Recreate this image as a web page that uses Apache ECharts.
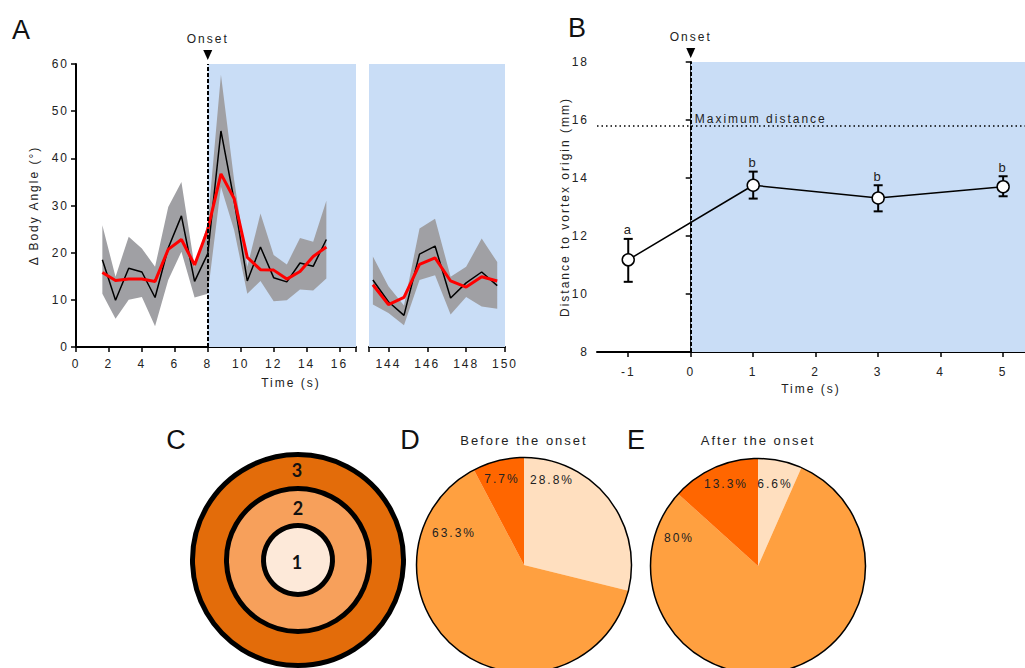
<!DOCTYPE html>
<html><head><meta charset="utf-8">
<script src="https://cdn.jsdelivr.net/npm/echarts@6/dist/echarts.min.js"></script>
<style>
html,body{margin:0;padding:0;background:#fff}
#c{width:1025px;height:668px}
#c svg text{letter-spacing:2px}
</style></head><body><div id="c"></div>
<script>
// ---------- Panel A data ----------
const aTimeEarly   = [1.6,2.4,3.2,4.0,4.8,5.6,6.4,7.2,8.0,8.8,9.6,10.4,11.2,12.0,12.8,13.6,14.4,15.2];
const aRawEarly    = [18.5,9.9,16.7,15.9,10.5,21.0,27.8,13.9,19.8,45.8,31.1,14.0,21.2,14.7,13.8,17.8,17.1,22.8];
const aSmoothEarly = [15.8,14.1,14.4,14.4,13.9,20.7,22.8,17.4,24.9,36.7,31.5,19.0,16.4,16.3,14.4,16.0,19.2,21.2];
const aUpperEarly  = [25.8,14.9,23.4,20.9,17.0,29.7,35.0,17.0,26.2,57.7,35.4,17.0,28.3,19.5,17.5,23.1,22.3,31.0];
const aLowerEarly  = [11.3,6.0,10.0,10.6,4.4,14.2,20.2,10.5,11.3,34.0,24.8,11.3,14.0,9.7,9.9,12.2,12.0,14.5];
const aTimeLate    = [143.2,144.0,144.8,145.6,146.4,147.2,148.0,148.8,149.6];
const aRawLate     = [14.2,9.6,6.7,19.7,21.4,10.4,13.6,15.9,13.0];
const aSmoothLate  = [13.2,9.0,10.5,17.5,18.9,14.0,12.7,14.9,14.0];
const aUpperLate   = [19.2,12.9,8.8,25.1,27.2,14.9,17.0,23.0,18.0];
const aLowerLate   = [9.0,7.2,4.6,14.2,15.2,6.9,10.6,8.6,8.1];
const aXTicksEarly = [0,2,4,6,8,10,12,14,16];
const aXTicksLate  = [144,146,148,150];
const aOnset = 8;
// ---------- Panel B data ----------
const bTime    = [-1,1,3,5];
const bMean    = [11.18,13.75,13.31,13.70];
const bLow     = [10.42,13.29,12.85,13.37];
const bHigh    = [11.90,14.22,13.75,14.06];
const bLetters = ['a','b','b','b'];
const bMaxDistance = 15.8;
const bXTicks  = [-1,0,1,2,3,4,5];
const bOnset = 0;
// ---------- Panels C-E data ----------
const zoneNames    = ['1','2','3'];
const beforeShares = [28.8,63.3,7.7];
const afterShares  = [6.6,80,13.3];

const FONT = '"Liberation Sans", Arial, sans-serif';
const TXT = '#222';
const BLUE = '#C9DDF6';
const GRAY = '#A0A0A4';

const axisLineS = {show:true, lineStyle:{color:'#000', width:2}};
const axisTickS = {show:true, length:5, lineStyle:{color:'#000', width:1.5}};

function bandRender(xs, lo, hi) {
  return function (params, api) {
    if (params.dataIndex !== 0) return null;
    const pts = [];
    for (let i = 0; i < xs.length; i++) pts.push(api.coord([xs[i], hi[i]]));
    for (let i = xs.length - 1; i >= 0; i--) pts.push(api.coord([xs[i], lo[i]]));
    return {type:'polygon', shape:{points:pts}, style:{fill:GRAY}};
  };
}
const pairs = (xs, ys) => xs.map((x, i) => [x, ys[i]]);
const triples = (xs, a, b) => xs.map((x, i) => [x, a[i], b[i]]);

const pieCenterD = [524, 565], pieCenterE = [758, 566], pieR = 107.5;
const labelOffD = [[28,-85],[-70,-32],[-22,-86]];
const labelOffE = [[17,-82],[-79,-28],[-32,-82]];
const pieColors = ['#FFDFBF','#FFA040','#FF6600'];

function pieSeries(shares, center, offs) {
  return {
    type:'pie', center:center, radius:[0,pieR], startAngle:90, clockwise:true,
    avoidLabelOverlap:false, silent:true,
    data: shares.map((v, i) => ({name:zoneNames[i], value:v, itemStyle:{color:pieColors[i]}})),
    itemStyle:{borderWidth:0},
    label:{show:true, position:'inside', formatter:p => p.value + '%', color:TXT, fontSize:12, fontFamily:FONT},
    labelLine:{show:false},
    labelLayout: function (p) {
      const o = offs[p.dataIndex];
      return {x:center[0] + o[0], y:center[1] + o[1], align:'center', verticalAlign:'middle'};
    }
  };
}
function ring(r, color, z) {
  return {type:'pie', center:[298,560], radius:[0,r], silent:true, z:z,
    data:[{value:1, itemStyle:{color:color}}],
    itemStyle:{borderColor:'#000', borderWidth:5}, label:{show:false}, labelLine:{show:false}};
}

const option = {
  animation:false,
  textStyle:{fontFamily:FONT},
  grid:[
    {left:76, top:64, width:280, height:283},
    {left:369, top:64, width:136, height:283},
    {left:597, top:62, width:428, height:290}
  ],
  xAxis:[
    {gridIndex:0, type:'value', min:0, max:17, axisLine:axisLineS,
     axisTick:Object.assign({customValues:aXTicksEarly.concat([17])}, axisTickS),
     axisLabel:{customValues:aXTicksEarly, color:TXT, fontSize:12, margin:11}, splitLine:{show:false}},
    {gridIndex:1, type:'value', min:143, max:150, axisLine:axisLineS,
     axisTick:Object.assign({customValues:[143].concat(aXTicksLate)}, axisTickS),
     axisLabel:{customValues:aXTicksLate, color:TXT, fontSize:12, margin:11}, splitLine:{show:false}},
    {gridIndex:2, type:'value', min:-1.5, max:5.35, axisLine:axisLineS,
     axisTick:Object.assign({customValues:bXTicks}, axisTickS),
     axisLabel:{customValues:bXTicks, color:TXT, fontSize:12, margin:14}, splitLine:{show:false},
     name:'Time (s)', nameLocation:'middle', nameGap:31, nameTextStyle:{color:TXT, fontSize:12}}
  ],
  yAxis:[
    {gridIndex:0, type:'value', min:0, max:60, interval:10, axisLine:axisLineS, axisTick:axisTickS,
     axisLabel:{color:TXT, fontSize:12, margin:7}, splitLine:{show:false},
     name:'Δ Body Angle (°)', nameLocation:'middle', nameGap:36, nameTextStyle:{color:TXT, fontSize:12}},
    {gridIndex:1, type:'value', min:0, max:60, interval:10, show:false},
    {gridIndex:2, type:'value', min:8, max:18, interval:2, axisLine:axisLineS, axisTick:axisTickS,
     axisLabel:{color:TXT, fontSize:12, margin:8}, splitLine:{show:false},
     name:'Distance to vortex origin (mm)', nameLocation:'middle', nameGap:26, nameTextStyle:{color:TXT, fontSize:12}}
  ],
  series:[
    // Panel A early window
    {type:'line', xAxisIndex:0, yAxisIndex:0, data:[], z:1, silent:true,
     markArea:{silent:true, itemStyle:{color:BLUE}, data:[[{xAxis:aOnset},{xAxis:17}]]}},
    {type:'custom', xAxisIndex:0, yAxisIndex:0, z:2, silent:true,
     data:triples(aTimeEarly, aLowerEarly, aUpperEarly), encode:{x:0, y:[1,2]},
     renderItem:bandRender(aTimeEarly, aLowerEarly, aUpperEarly)},
    {type:'line', xAxisIndex:0, yAxisIndex:0, z:3, data:pairs(aTimeEarly, aRawEarly),
     symbol:'none', lineStyle:{color:'#000', width:1.5}},
    {type:'line', xAxisIndex:0, yAxisIndex:0, z:4, data:pairs(aTimeEarly, aSmoothEarly),
     symbol:'none', lineStyle:{color:'#FF0000', width:3}},
    {type:'line', xAxisIndex:0, yAxisIndex:0, data:[], z:5, silent:true,
     markLine:{silent:true, symbol:['none','none'], label:{show:false},
       lineStyle:{color:'#000', width:2, type:[4,2]}, data:[{xAxis:aOnset}]}},
    // Panel A late window
    {type:'line', xAxisIndex:1, yAxisIndex:1, data:[], z:1, silent:true,
     markArea:{silent:true, itemStyle:{color:BLUE}, data:[[{xAxis:143},{xAxis:150}]]}},
    {type:'custom', xAxisIndex:1, yAxisIndex:1, z:2, silent:true,
     data:triples(aTimeLate, aLowerLate, aUpperLate), encode:{x:0, y:[1,2]},
     renderItem:bandRender(aTimeLate, aLowerLate, aUpperLate)},
    {type:'line', xAxisIndex:1, yAxisIndex:1, z:3, data:pairs(aTimeLate, aRawLate),
     symbol:'none', lineStyle:{color:'#000', width:1.5}},
    {type:'line', xAxisIndex:1, yAxisIndex:1, z:4, data:pairs(aTimeLate, aSmoothLate),
     symbol:'none', lineStyle:{color:'#FF0000', width:3}},
    // Panel B
    {type:'line', xAxisIndex:2, yAxisIndex:2, data:[], z:1, silent:true,
     markArea:{silent:true, itemStyle:{color:BLUE}, data:[[{xAxis:bOnset},{xAxis:5.35}]]},
     markLine:{silent:true, symbol:['none','none'], label:{show:false},
       data:[
         {xAxis:bOnset, lineStyle:{color:'#000', width:2, type:[4,2]}},
         {yAxis:bMaxDistance, lineStyle:{color:'#000', width:1.5, type:[1.5,3]}}
       ]}},
    {type:'custom', xAxisIndex:2, yAxisIndex:2, z:3, silent:true,
     data:triples(bTime, bLow, bHigh), encode:{x:0, y:[1,2]},
     renderItem:function (params, api) {
       const x = api.value(0);
       const pLo = api.coord([x, api.value(1)]), pHi = api.coord([x, api.value(2)]);
       const w = 4.5, st = {stroke:'#000', lineWidth:2};
       return {type:'group', children:[
         {type:'line', shape:{x1:pHi[0], y1:pHi[1], x2:pLo[0], y2:pLo[1]}, style:st},
         {type:'line', shape:{x1:pHi[0]-w, y1:pHi[1], x2:pHi[0]+w, y2:pHi[1]}, style:st},
         {type:'line', shape:{x1:pLo[0]-w, y1:pLo[1], x2:pLo[0]+w, y2:pLo[1]}, style:st},
         {type:'text', x:pHi[0], y:pHi[1]-9, style:{text:bLetters[params.dataIndex], fill:TXT,
           fontSize:13, fontFamily:FONT, align:'center', verticalAlign:'middle'}}
       ]};
     }},
    {type:'line', xAxisIndex:2, yAxisIndex:2, z:4, data:pairs(bTime, bMean),
     symbol:'circle', symbolSize:12, lineStyle:{color:'#000', width:1.5},
     itemStyle:{color:'#fff', borderColor:'#000', borderWidth:1.5}},
    // Panel C rings
    ring(105.5, '#E36C0A', 1),
    ring(71.5, '#F7A05B', 2),
    ring(34.5, '#FDE9D9', 3),
    // Panels D, E
    pieSeries(beforeShares, pieCenterD, labelOffD),
    pieSeries(afterShares, pieCenterE, labelOffE)
  ]
};

const chart = echarts.init(document.getElementById('c'), null, {renderer:'svg'});
chart.setOption(option);

const pA = chart.convertToPixel({gridIndex:0}, [aOnset, 60]);
const pB = chart.convertToPixel({gridIndex:2}, [bOnset, 18]);
const pM = chart.convertToPixel({gridIndex:2}, [bOnset, bMaxDistance]);

function txt(t, x, y, size, extra) {
  return Object.assign({type:'text', x:x, y:y, z:100, silent:true,
    style:Object.assign({text:t, fill:TXT, fontSize:size, fontFamily:FONT, align:'center', verticalAlign:'middle'}, extra || {})});
}
function tri(x, y) {
  return {type:'polygon', z:100, silent:true, shape:{points:[[x-4.5, y-14],[x+4.5, y-14],[x, y-4]]}, style:{fill:'#000'}};
}
chart.setOption({graphic:[
  txt('A', 22, 30, 27, {fill:'#111'}),
  txt('B', 578, 28, 27, {fill:'#111'}),
  txt('C', 177, 440, 27, {fill:'#111'}),
  txt('D', 411, 440, 27, {fill:'#111'}),
  txt('E', 637, 440, 27, {fill:'#111'}),
  txt('Onset', pA[0], pA[1]-25, 12),
  tri(pA[0], pA[1]),
  txt('Onset', pB[0], pB[1]-25, 12),
  tri(pB[0], pB[1]),
  txt('Time (s)', 291, 383, 12),
  txt('Maximum distance', pM[0]+4, pM[1]-7, 12, {align:'left'}),
  txt('Before the onset', pieCenterD[0], 440, 13),
  txt('After the onset', pieCenterE[0], 440, 13),
  txt(zoneNames[2], 298, 470, 18, {fontWeight:'bold', fontFamily:'Lato, "Open Sans", sans-serif', fill:'#111'}),
  txt(zoneNames[1], 299, 508, 18, {fontWeight:'bold', fontFamily:'Lato, "Open Sans", sans-serif', fill:'#111'}),
  txt(zoneNames[0], 298, 562, 18, {fontWeight:'bold', fontFamily:'Lato, "Open Sans", sans-serif', fill:'#111'}),
  {type:'circle', z:50, silent:true, shape:{cx:pieCenterD[0], cy:pieCenterD[1], r:pieR}, style:{fill:'none', stroke:'#000', lineWidth:1.5}},
  {type:'circle', z:50, silent:true, shape:{cx:pieCenterE[0], cy:pieCenterE[1], r:pieR}, style:{fill:'none', stroke:'#000', lineWidth:1.5}}
]});
</script></body></html>
